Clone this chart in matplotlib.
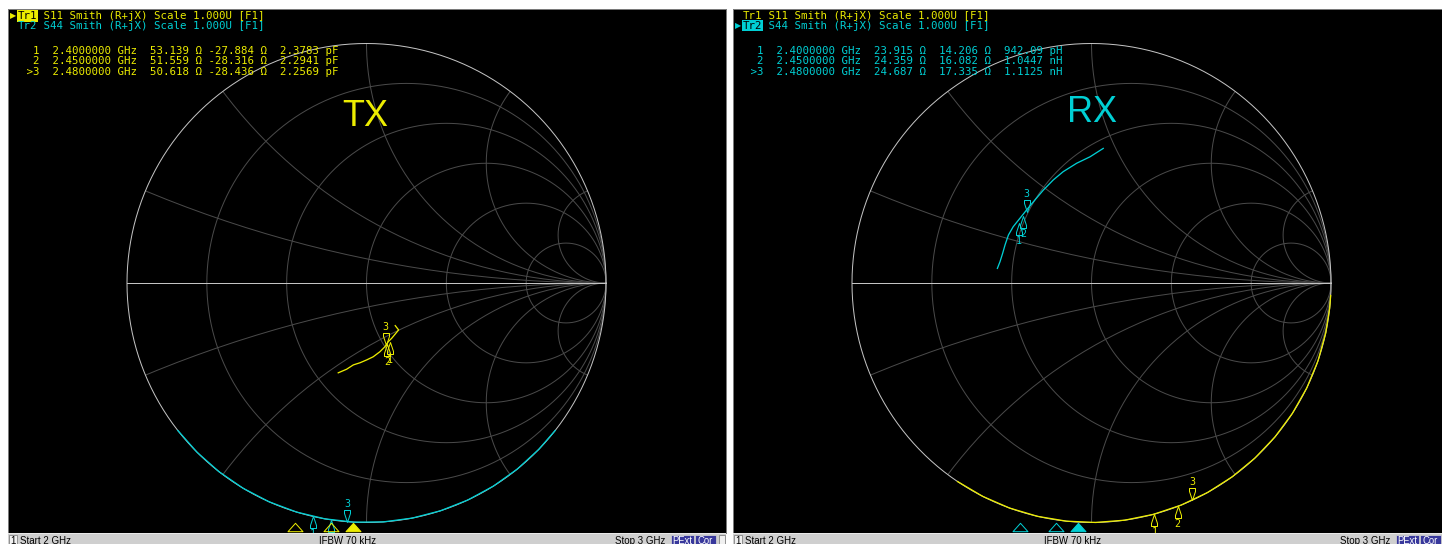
import numpy as np
import matplotlib
matplotlib.use("Agg")
import matplotlib.pyplot as plt
from matplotlib.patches import Rectangle, Circle
from matplotlib.path import Path

W, H = 1442, 544
DPI = 72          # 1 pt == 1 px
PW, PH = 718, 524  # one analyser window (chart area)

YELLOW = '#ecec00'
CYAN = '#00cfd4'
GRID = '#4a4a4a'
RIM = '#c4c4c4'
MONO = 'DejaVu Sans Mono'

start_ghz = 2
stop_ghz = 3
ifbw = '70 kHz'

# marker frequencies (GHz)
freqs = [2.40, 2.45, 2.48]
mk_names = ['1', '2', '>3']

# TX window, Tr1 S11 markers
tx_r = [53.139, 51.559, 50.618]
tx_x = [-27.884, -28.316, -28.436]
tx_lc = ['2.3783', '2.2941', '2.2569']
tx_lc_unit = ['pF', 'pF', 'pF']

# RX window, Tr2 S44 markers
rx_r = [23.915, 24.359, 24.687]
rx_x = [14.206, 16.082, 17.335]
rx_lc = ['942.09', '1.0447', '1.1125']
rx_lc_unit = ['pH', 'nH', 'nH']

# S11 trace in TX window (reflection coefficient)
tx_s11_re = [0.120, 0.134, 0.120, 0.105, 0.091, 0.077, 0.056, 0.028, 0.001,
             -0.027, -0.055, -0.083, -0.118]
tx_s11_im = [-0.178, -0.196, -0.213, -0.231, -0.245, -0.266, -0.287, -0.308,
             -0.321, -0.333, -0.342, -0.360, -0.375]

# S44 trace in RX window
rx_s44_re = [-0.393, -0.382, -0.371, -0.361, -0.347, -0.327, -0.299, -0.271,
             -0.236, -0.201, -0.160, -0.118, -0.062, -0.006, 0.049]
rx_s44_im = [0.061, 0.089, 0.124, 0.159, 0.200, 0.235, 0.270, 0.305,
             0.347, 0.388, 0.430, 0.465, 0.500, 0.527, 0.562]

# traces sitting on the rim (|G| = 1), angle in degrees
tx_s44_ang = [-142, -135, -128, -121, -114, -107, -100, -93, -86, -79,
              -72, -65, -58, -51, -44, -38]
tx_s44_mk_ang = [-103.0, -98.5, -94.7]
rx_s11_ang = [-124, -117, -110, -103, -96, -89, -82, -75, -68, -61, -54,
              -47, -40, -33, -26, -19, -12, -6, -3]
rx_s11_mk_ang = [-74.8, -68.9, -65.2]


def to_gamma(r, x, z0=50.0):
    z = complex(r, x) / z0
    g = (z - 1) / (z + 1)
    return g.real, g.imag


def rim(ang):
    a = np.radians(ang)
    return np.cos(a), np.sin(a)


def pencil(up=True):
    """marker glyph, tip at the origin"""
    v = [(0, 0), (3, -9), (3, -12), (-3, -12), (-3, -9), (0, 0)]
    if not up:
        v = [(a, -b) for a, b in v]
    return Path(v, [Path.MOVETO] + [Path.LINETO] * 4 + [Path.CLOSEPOLY])


STIM = Path([(-7.5, -4.2), (7.5, -4.2), (0, 4.2), (-7.5, -4.2)],
            [Path.MOVETO, Path.LINETO, Path.LINETO, Path.CLOSEPOLY])


def frac(px, py):
    return px / PW, 1 - py / PH


def panel(fig, x0):
    ax = fig.add_axes([x0 / W, (H - 9 - PH) / H, PW / W, PH / H])
    ax.set_facecolor('black')
    cx, cy, rad = 358.5, 274.0, 239.5
    ax.set_xlim(-cx / rad, (PW - cx) / rad)
    ax.set_ylim(-(PH - cy) / rad, cy / rad)
    ax.set_xticks([])
    ax.set_yticks([])
    for s in ax.spines.values():
        s.set_color('#7a7a7a')
        s.set_linewidth(1)
    return ax


def smith_grid(ax):
    t = np.linspace(0, 2 * np.pi, 721)
    clip = Circle((0, 0), 1, transform=ax.transData)
    for r in [0.2, 0.5, 1, 2, 5]:
        c, rr = r / (1 + r), 1 / (1 + r)
        ax.plot(c + rr * np.cos(t), rr * np.sin(t), color=GRID, lw=1)
    for x in [0.2, 0.5, 1, 2, 5]:
        for s in (1, -1):
            ln, = ax.plot(1 + np.cos(t) / x, s / x + np.sin(t) / x, color=GRID, lw=1)
            ln.set_clip_path(clip)
    ax.plot(np.cos(t), np.sin(t), color=RIM, lw=1)
    ax.plot([-1, 1], [0, 0], color=RIM, lw=1)


def markers(ax, xs, ys, color, active=2):
    bottom = ax.get_ylim()[0]
    for i, (x, y) in enumerate(zip(xs, ys)):
        up = i != active
        ax.plot(x, y, marker=pencil(up), ms=24, mfc='none', mec=color, mew=1)
        # a number that would fall under the status bar stays hidden
        if up and (y - bottom) * 239.5 < 14:
            continue
        ax.annotate(str(i + 1), (x, y), xytext=(0, -13 if up else 13),
                    textcoords='offset points', ha='center',
                    va='top' if up else 'bottom', color=color,
                    fontsize=10, family=MONO, annotation_clip=True,
                    clip_on=True)


def stimulus(ax, color, active=2):
    y = 1 - (526.5 - 9) / PH
    for i, f in enumerate(freqs):
        fx = (f - start_ghz) / (stop_ghz - start_ghz)
        ax.plot(fx, y, marker=STIM, ms=15, transform=ax.transAxes,
                mec=color, mew=1, mfc=color if i == active else 'none',
                clip_on=False)


def header(ax, active):
    cw = 0.602 * 10.75
    rest = ' Smith (R+jX) Scale 1.000U [F1]'
    for row, (tr, sp, col) in enumerate([('Tr1', 'S11', YELLOW), ('Tr2', 'S44', CYAN)]):
        y = 7 + row * 9.7
        x = 10
        if row == active:
            ax.text(*frac(2, y), '\u25b6', transform=ax.transAxes, color=col,
                    fontsize=8, va='center', ha='left')
            ax.text(*frac(x, y), tr, transform=ax.transAxes, color='black',
                    fontsize=10.75, family=MONO, va='center', ha='left',
                    bbox=dict(boxstyle='square,pad=0.05', fc=col, ec='none'))
        else:
            ax.text(*frac(x, y), tr, transform=ax.transAxes, color=col,
                    fontsize=10.75, family=MONO, va='center', ha='left')
        ax.text(*frac(x + 3 * cw, y), ' ' + sp + rest, transform=ax.transAxes,
                color=col, fontsize=10.75, family=MONO, va='center', ha='left')


def table(ax, rs, xs, lc, units, color):
    for i in range(3):
        s = '{:>3}  {:.7f} GHz  {:6.3f} \u03a9 {:7.3f} \u03a9  {} {}'.format(
            mk_names[i], freqs[i], rs[i], xs[i], lc[i], units[i])
        ax.text(*frac(11.5, 42 + i * 10.4), s, transform=ax.transAxes,
                color=color, fontsize=10.75, family=MONO, va='center', ha='left')


def status(fig, x0):
    sa = fig.add_axes([x0 / W, 0, PW / W, 11 / H], zorder=5)
    sa.set_xlim(0, PW)
    sa.set_ylim(11, 0)
    sa.axis('off')
    sa.add_patch(Rectangle((0, 0), PW, 11, fc='#cfcfcf', ec='none'))
    sa.add_patch(Rectangle((0, 0), PW, 1, fc='#e8e8e8', ec='none'))
    sa.add_patch(Rectangle((1, 1.5), 8, 12, fc='#f0f0f0', ec='#808080', lw=0.8))
    kw = dict(va='top', fontsize=9.8, family='Liberation Sans', color='black')
    sa.text(5, 3, '1', ha='center', **kw)
    sa.text(12, 3, 'Start %d GHz' % start_ghz, ha='left', **kw)
    sa.text(340, 3, 'IFBW ' + ifbw, ha='center', **kw)
    sa.text(607, 3, 'Stop %d GHz' % stop_ghz, ha='left', **kw)
    for bx, bw, lab in [(663, 23, 'PExt'), (687, 21, 'Cor')]:
        sa.add_patch(Rectangle((bx, 1.5), bw, 12, fc='#38389c', ec='#d0d0d0', lw=0.8))
        sa.text(bx + bw / 2, 3, lab, ha='center', va='top', fontsize=9.5,
                family='Liberation Sans', color='white')
    sa.add_patch(Rectangle((711, 1.5), 6, 12, fc='#f0f0f0', ec='#808080', lw=0.8))


def tx_window(fig):
    ax = panel(fig, 8)
    smith_grid(ax)
    cx, cy = rim(tx_s44_ang)
    ax.plot(cx, cy, color=CYAN, lw=1.3)
    ax.plot(tx_s11_re, tx_s11_im, color=YELLOW, lw=1.3)
    g = [to_gamma(r, x) for r, x in zip(tx_r, tx_x)]
    markers(ax, [p[0] for p in g], [p[1] for p in g], YELLOW)
    mx, my = rim(tx_s44_mk_ang)
    markers(ax, mx, my, CYAN)
    stimulus(ax, YELLOW)
    header(ax, active=0)
    table(ax, tx_r, tx_x, tx_lc, tx_lc_unit, YELLOW)
    ax.text(*frac(357, 108), 'TX', transform=ax.transAxes, color=YELLOW,
            fontsize=36, family='Liberation Sans', ha='center', va='center')
    status(fig, 8)


def rx_window(fig):
    ax = panel(fig, 733)
    smith_grid(ax)
    cx, cy = rim(rx_s11_ang)
    ax.plot(cx, cy, color=YELLOW, lw=1.3)
    ax.plot(rx_s44_re, rx_s44_im, color=CYAN, lw=1.3)
    mx, my = rim(rx_s11_mk_ang)
    markers(ax, mx, my, YELLOW)
    g = [to_gamma(r, x) for r, x in zip(rx_r, rx_x)]
    markers(ax, [p[0] for p in g], [p[1] for p in g], CYAN)
    stimulus(ax, CYAN)
    header(ax, active=1)
    table(ax, rx_r, rx_x, rx_lc, rx_lc_unit, CYAN)
    ax.text(*frac(359, 104), 'RX', transform=ax.transAxes, color=CYAN,
            fontsize=36, family='Liberation Sans', ha='center', va='center')
    status(fig, 733)


def main():
    fig = plt.figure(figsize=(W / DPI, H / DPI), dpi=DPI, facecolor='white')
    tx_window(fig)
    rx_window(fig)
    fig.savefig('out.png', dpi=DPI, facecolor='white')


if __name__ == '__main__':
    main()
